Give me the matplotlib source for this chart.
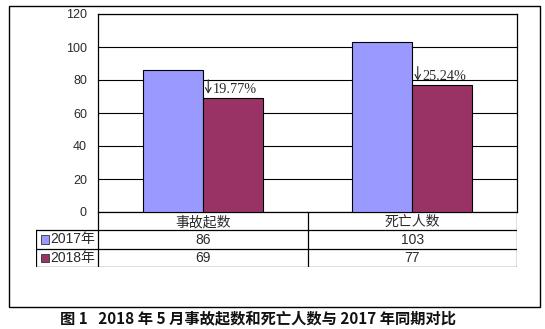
import matplotlib
matplotlib.use("Agg")
import matplotlib.pyplot as plt
from matplotlib.patches import Rectangle
from matplotlib.transforms import offset_copy

categories = ["事故起数", "死亡人数"]
series_names = ["2017年", "2018年"]
values_2017 = [86, 103]
values_2018 = [69, 77]
changes = ["19.77%", "25.24%"]
yticks = [0, 20, 40, 60, 80, 100, 120]
title = "图 1   2018 年 5 月事故起数和死亡人数与 2017 年同期对比"

colors = ["#9999FF", "#993366"]
W, H = 545, 329
fig = plt.figure(figsize=(W / 100, H / 100), dpi=100)

def fx(px):
    return px / W

def fy(py):
    return 1 - py / H

sans = ["Liberation Sans", "Noto Sans CJK SC", "DejaVu Sans"]
tcol = "#2a2a2a"

# outer chart border
fig.patches.append(Rectangle((fx(9), fy(307)), fx(540) - fx(9), fy(6) - fy(307),
                             transform=fig.transFigure, fill=False, edgecolor="black",
                             linewidth=1.0))

L, R, T, B = 98, 517, 14, 212
ax = fig.add_axes([fx(L), fy(B), fx(R) - fx(L), fy(T) - fy(B)])
ax.set_xlim(-0.5, len(categories) - 0.5)
ax.set_ylim(0, 120)
bw = 0.286
x = list(range(len(categories)))
ax.bar([i - bw / 2 for i in x], values_2017, width=bw, color=colors[0], edgecolor="black",
       linewidth=0.8, zorder=3)
ax.bar([i + bw / 2 for i in x], values_2018, width=bw, color=colors[1], edgecolor="black",
       linewidth=0.8, zorder=3)
tip_tr = offset_copy(ax.transData, fig=fig, x=5.5, y=4.5, units="dots")
for i in x:
    ax.annotate("", xy=(i, values_2018[i]), xycoords=tip_tr,
                xytext=(0, 10), textcoords="offset points",
                arrowprops=dict(arrowstyle="->,head_length=0.35,head_width=0.2",
                                color=tcol, lw=0.8, shrinkA=0, shrinkB=0), zorder=4)
    ax.annotate(changes[i], (i, values_2018[i]), xytext=(7.2, 1.5), textcoords="offset points",
                ha="left", va="bottom", fontsize=10.3,
                family=["Liberation Serif", "DejaVu Serif"], color=tcol, zorder=4)
ax.set_yticks(yticks)
ax.set_yticklabels([str(v) for v in yticks], family=sans, fontsize=9, color=tcol)
ax.tick_params(axis="y", length=0, pad=8)
ax.set_xticks([])
ax.grid(axis="y", color="black", linewidth=0.8, zorder=1)
ax.set_axisbelow(True)
for s in ax.spines.values():
    s.set_color("black")
    s.set_linewidth(0.9)

# data table
TL, TB = 36, 267
tax = fig.add_axes([fx(TL), fy(TB), fx(R) - fx(TL), fy(B) - fy(TB)])
unit = (R - L) / len(categories)
x0 = -0.5 - (L - TL) / unit
tax.set_xlim(x0, len(categories) - 0.5)
tax.set_ylim(3, 0)
tax.axis("off")
lw = 0.9
tax.plot([-0.5, -0.5], [0, 3], color="black", lw=lw)
for i in x:
    tax.plot([i + 0.5, i + 0.5], [0, 3], color="black", lw=lw)
tax.plot([x0, x0], [1, 3], color="black", lw=lw)
for yy in [1, 2, 3]:
    tax.plot([x0, len(categories) - 0.5], [yy, yy], color="black", lw=lw)
fs = 10
for i, c in enumerate(categories):
    tax.text(i, 0.55, c, ha="center", va="center", fontsize=fs, family=sans, color=tcol)
    tax.text(i, 1.5, str(values_2017[i]), ha="center", va="center", fontsize=fs, family=sans,
             color=tcol)
    tax.text(i, 2.5, str(values_2018[i]), ha="center", va="center", fontsize=fs, family=sans,
             color=tcol)
kw = 8 / unit
for r, (name, col) in enumerate(zip(series_names, colors)):
    yy = 1.5 + r
    tax.add_patch(Rectangle((x0 + 5 / unit, yy - 0.22), kw, 0.44, facecolor=col,
                            edgecolor="#333333", linewidth=0.6))
    tax.text(x0 + 14 / unit, yy, name, ha="left", va="center", fontsize=fs, family=sans,
             color=tcol)

fig.text(fx(258), fy(318), title, ha="center", va="center", fontsize=11, fontweight="bold",
         family=["Noto Sans CJK SC", "DejaVu Sans"], color="#111111")

fig.savefig("out.png", dpi=100)
